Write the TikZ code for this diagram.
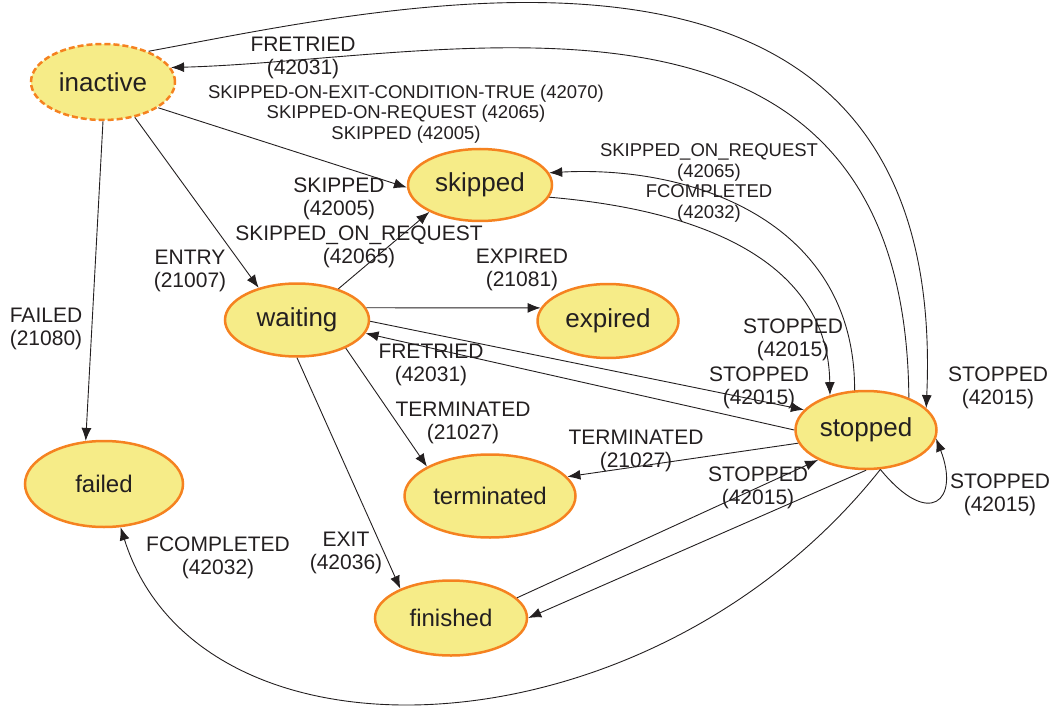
\documentclass[tikz,border=0pt]{standalone}
\usepackage{fontspec}
\setmainfont{Liberation Sans}
\usetikzlibrary{shapes.geometric,arrows.meta}
\definecolor{stfill}{RGB}{246,236,136}
\definecolor{stline}{RGB}{245,130,32}
\definecolor{ink}{RGB}{35,31,32}

\begin{document}
\begin{tikzpicture}[x=1pt,y=-1pt,
	state/.style={ellipse,draw=stline,line width=2.5pt,fill=stfill,inner sep=0pt,text=ink,font=\fontsize{26}{30}\selectfont},
	smallstate/.style={state,font=\fontsize{24}{28}\selectfont},
	trans/.style={draw=ink,line width=0.9pt,-{Latex[length=13pt,width=10pt]}},
	lab/.style={align=center,text=ink,inner sep=0pt,font=\fontsize{21}{23.5}\selectfont},
	smalllab/.style={lab,font=\fontsize{18.5}{20.5}\selectfont}]
		\useasboundingbox (0,0) rectangle (1056,711);

		% states
		\node[state,dash pattern=on 6pt off 3pt,minimum width=144,minimum height=76] (inactive) at (103,82) {inactive};
		\node[state,minimum width=144,minimum height=72] (skipped) at (480,185) {skipped};
		\node[state,minimum width=144,minimum height=73] (waiting) at (297,320) {waiting};
		\node[state,minimum width=141,minimum height=74] (expired) at (608,321) {expired};
		\node[state,minimum width=141,minimum height=78] (stopped) at (866,430) {stopped};
		\node[smallstate,minimum width=158,minimum height=86] (failed) at (104,484) {failed};
		\node[smallstate,minimum width=171,minimum height=83] (terminated) at (490,496) {terminated};
		\node[smallstate,minimum width=152,minimum height=75] (finished) at (451,618) {finished};

		% from inactive
		\draw[trans] (inactive.34) .. controls (400,5) and (950,-125) .. (stopped.20);
		\draw[trans] (inactive.-25) -- (skipped.182);
		\draw[trans] (inactive.-48) -- (waiting.140);
		\draw[trans] (inactive.-90) -- (failed.113);

		% from waiting
		\draw[trans] (waiting.37) -- (skipped.208);
		\draw[trans] (waiting.10) -- (expired.169);
		\draw[trans] (waiting.-1) -- (stopped.162);
		\draw[trans] (waiting.-30) -- (terminated.155);
		\draw[trans] (waiting.-90) -- (finished.150);

		% skipped and finished
		\draw[trans] (skipped.-10) .. controls (700,210) and (828,260) .. (stopped.136);
		\draw[trans] (finished.17) -- (stopped.212);

		% from stopped
		\draw[trans] (stopped.37) .. controls (905,-60) and (450,60) .. (inactive.12);
		\draw[trans] (stopped.106) .. controls (855,220) and (690,165) .. (skipped.10);
		\draw[trans] (stopped.180) -- (waiting.-11);
		\draw[trans] (stopped.191) -- (terminated.14);
		\draw[trans] (stopped.-90) -- (finished.0);
		\draw[trans] (stopped.-70) .. controls (650,760) and (200,780) .. (failed.-69);
		\draw[trans] (stopped.-70) .. controls (930,530) and (960,500) .. (stopped.-7);

		% labels
		\node[lab] (fretriedtop) at (303,58) {FRETRIED\\(42031)};
		\node[smalllab] (skiplist) at (406,114) {SKIPPED-ON-EXIT-CONDITION-TRUE (42070)\\SKIPPED-ON-REQUEST (42065)\\SKIPPED (42005)};
		\node[smalllab] (skipreq) at (709,183) {SKIPPED\_ON\_REQUEST\\(42065)\\FCOMPLETED\\(42032)};
		\node[lab] (skipw) at (339,199) {SKIPPED\\(42005)};
		\node[lab] (skipreqw) at (359,247) {SKIPPED\_ON\_REQUEST\\(42065)};
		\node[lab] (entry) at (190,271) {ENTRY\\(21007)};
		\node[lab] (expiredlab) at (522,270) {EXPIRED\\(21081)};
		\node[lab] (failedlab) at (46,329) {FAILED\\(21080)};
		\node[lab] (stopsk) at (793,340) {STOPPED\\(42015)};
		\node[lab] (fretriedw) at (431,365) {FRETRIED\\(42031)};
		\node[lab] (stopw) at (759,388) {STOPPED\\(42015)};
		\node[lab] (stopin) at (998,388) {STOPPED\\(42015)};
		\node[lab] (termw) at (463,423) {TERMINATED\\(21027)};
		\node[lab] (termst) at (636,451) {TERMINATED\\(21027)};
		\node[lab] (stopfin) at (758,488) {STOPPED\\(42015)};
		\node[lab] (stoploop) at (1000,495) {STOPPED\\(42015)};
		\node[lab] (exitlab) at (346,553) {EXIT\\(42036)};
		\node[lab] (fcompl) at (218,558) {FCOMPLETED\\(42032)};

  \end{tikzpicture}
\end{document}
